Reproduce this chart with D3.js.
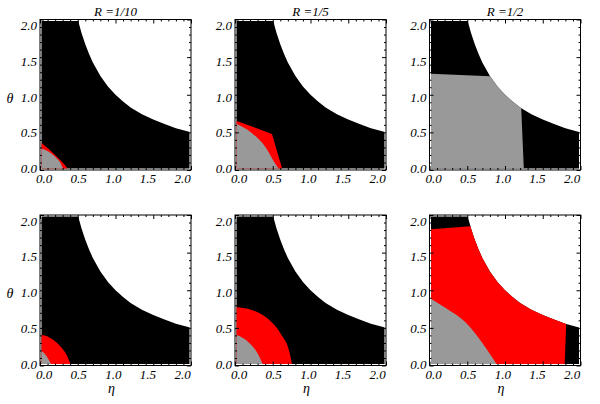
<!DOCTYPE html>
<html><head><meta charset="utf-8">
<script src="https://cdn.jsdelivr.net/npm/d3@7"></script>
<style>
body{margin:0;background:#fff}
text.lbl{font-family:"Liberation Serif","Times New Roman",serif;font-style:italic;fill:#000}
</style>
</head><body>
<svg id="c" width="600" height="404"></svg>
<script>
// ---- data ----
const titles = ["R =1/10", "R =1/5", "R =1/2", "", "", ""];
const tickValues = [0, 0.5, 1, 1.5, 2];
const tickLabels = ["0.0", "0.5", "1.0", "1.5", "2.0"];
const minorTicks = [0.1,0.2,0.3,0.4,0.6,0.7,0.8,0.9,1.1,1.2,1.3,1.4,1.6,1.7,1.8,1.9];
const xTitle = "\u03B7";
const yTitle = "\u03B8";
// upper boundary of the black region (eta, theta)
const hyperbola = [[0,2],[0.5,2],[0.52,1.93],[0.55,1.82],[0.6,1.67],[0.65,1.54],[0.7,1.43],[0.8,1.25],[0.9,1.11],[1.0,1.0],[1.1,0.91],[1.2,0.83],[1.35,0.74],[1.5,0.67],[1.65,0.61],[1.8,0.555],[2.0,0.5]];
// panel 1 (R=1/10, top)
const red1  = [[0,0.375],[0.13,0.265],[0.25,0.15],[0.33,0.065],[0.38,0]];
const gray1 = [[0,0.29],[0.07,0.265],[0.15,0.22],[0.23,0.145],[0.28,0.075],[0.31,0]];
// panel 2 (R=1/5, top)
const red2  = [[0,0.66],[0.49,0.48],[0.63,0]];
const gray2 = [[0,0.62],[0.225,0.49],[0.40,0.31],[0.53,0.09],[0.59,0]];
// panel 3 (R=1/2, top)
const gray3 = [[0,0],[0,1.28],[0.8,1.245],[1.215,1.245],[1.215,0.82],[1.25,0]];
// panel 4 (R=1/10, bottom)
const red4  = [[0,0.41],[0.13,0.37],[0.265,0.26],[0.35,0.145],[0.41,0]];
const gray4 = [[0,0.21],[0.05,0.17],[0.09,0.12],[0.155,0]];
// panel 5 (R=1/5, bottom)
const red5  = [[0,0.78],[0.2,0.745],[0.35,0.68],[0.5,0.56],[0.62,0.40],[0.71,0.22],[0.76,0]];
const gray5 = [[0,0.41],[0.1,0.37],[0.2,0.29],[0.3,0.16],[0.375,0]];
// panel 6 (R=1/2, bottom)
const red6  = [[0,0],[0,1.81],[0.54,1.85],[1.81,1.85],[1.81,0.55],[1.79,0]];
const gray6 = [[0,0.90],[0.22,0.76],[0.48,0.57],[0.70,0.30],[0.90,0]];

const RED = "#ff0000", GRAY = "#999999";
const panels = [
  [{d: red1, c: RED, t: "area"}, {d: gray1, c: GRAY, t: "area"}],
  [{d: red2, c: RED, t: "areaLin"}, {d: gray2, c: GRAY, t: "area"}],
  [{d: gray3, c: GRAY, t: "poly"}],
  [{d: red4, c: RED, t: "area"}, {d: gray4, c: GRAY, t: "area"}],
  [{d: red5, c: RED, t: "area"}, {d: gray5, c: GRAY, t: "area"}],
  [{d: red6, c: RED, t: "poly"}, {d: gray6, c: GRAY, t: "area"}]
];

// ---- layout ----
const colX = [40, 235, 429.5];
const rowY = [19.5, 215];
const W = 151, H = 150.5, inset = 1.5;

const svg = d3.select("#c");
const defs = svg.append("defs");

panels.forEach((shapes, i) => {
  const col = i % 3, row = Math.floor(i / 3);
  const x0 = colX[col], y0 = rowY[row];
  const x = d3.scaleLinear().domain([0, 2]).range([x0, x0 + W]);
  const y = d3.scaleLinear().domain([0, 2]).range([y0 + H, y0]);
  const xl = d3.scaleLinear().domain([0, 2]).range([x0 + 3.5, x0 + W - 9]);
  const yl = d3.scaleLinear().domain([0, 2]).range([y0 + H - 1.5, y0 + 6]);

  const areaM = d3.area().x(d => x(d[0])).y0(y(0)).y1(d => y(d[1])).curve(d3.curveMonotoneX);
  const areaL = d3.area().x(d => x(d[0])).y0(y(0)).y1(d => y(d[1]));
  const poly = d3.line().x(d => x(d[0])).y(d => y(d[1]));

  defs.append("clipPath").attr("id", "in" + i).append("rect")
    .attr("x", x0 + inset).attr("y", y0 + inset)
    .attr("width", W - 2 * inset).attr("height", H - 2 * inset);
  defs.append("clipPath").attr("id", "hy" + i).append("path")
    .attr("d", areaL(hyperbola));

  const g = svg.append("g").attr("clip-path", `url(#in${i})`);
  g.append("path").attr("d", areaL(hyperbola)).attr("fill", "#000");
  const gg = g.append("g").attr("clip-path", `url(#hy${i})`);
  shapes.forEach(s => {
    const dstr = s.t === "area" ? areaM(s.d) : s.t === "areaLin" ? areaL(s.d) : poly(s.d) + "Z";
    gg.append("path").attr("d", dstr).attr("fill", s.c);
  });

  // ticks on all four sides, pointing inward
  const addTicks = (axisFn, scale, transform, vals, len) => {
    const a = svg.append("g").attr("transform", transform)
      .call(axisFn(scale).tickValues(vals).tickSize(-len).tickFormat(""));
    a.select(".domain").remove();
    a.selectAll("line").attr("stroke", "#000").attr("stroke-width", 1);
  };
  [[tickValues, 4], [minorTicks, 2]].forEach(([vals, len]) => {
    addTicks(d3.axisBottom, x, `translate(0,${y0 + H})`, vals, len);
    addTicks(d3.axisTop, x, `translate(0,${y0})`, vals, len);
    addTicks(d3.axisLeft, y, `translate(${x0},0)`, vals, len);
    addTicks(d3.axisRight, y, `translate(${x0 + W},0)`, vals, len);
  });

  svg.append("rect").attr("x", x0).attr("y", y0).attr("width", W).attr("height", H)
    .attr("fill", "none").attr("stroke", "#000").attr("stroke-width", 1);

  // tick labels
  const bx = svg.append("g").attr("transform", `translate(0,${y0 + H + 4})`)
    .call(d3.axisBottom(xl).tickValues(tickValues).tickSize(0).tickPadding(0)
      .tickFormat((d, k) => tickLabels[k]));
  bx.select(".domain").remove();
  bx.selectAll("text").attr("class", "lbl").attr("font-size", 13);

  const ly = svg.append("g").attr("transform", `translate(${x0 - 3},0)`)
    .call(d3.axisLeft(yl).tickValues(tickValues).tickSize(0).tickPadding(0)
      .tickFormat((d, k) => tickLabels[k]));
  ly.select(".domain").remove();
  ly.selectAll("text").attr("class", "lbl").attr("font-size", 13);
  bx.attr("font-family", null); ly.attr("font-family", null);

  if (titles[i]) {
    svg.append("text").attr("class", "lbl").attr("x", x0 + W / 2).attr("y", 16)
      .attr("text-anchor", "middle").attr("font-size", 13).text(titles[i]);
  }
  if (row === 1) {
    svg.append("text").attr("class", "lbl").attr("x", x0 + W / 2 - 4).attr("y", 393)
      .attr("text-anchor", "middle").attr("font-size", 14).text(xTitle);
  }
  if (col === 0) {
    svg.append("text").attr("class", "lbl").attr("x", 10).attr("y", y0 + H / 2 + 8)
      .attr("text-anchor", "middle").attr("font-size", 14).text(yTitle);
  }
});
</script>
</body></html>
